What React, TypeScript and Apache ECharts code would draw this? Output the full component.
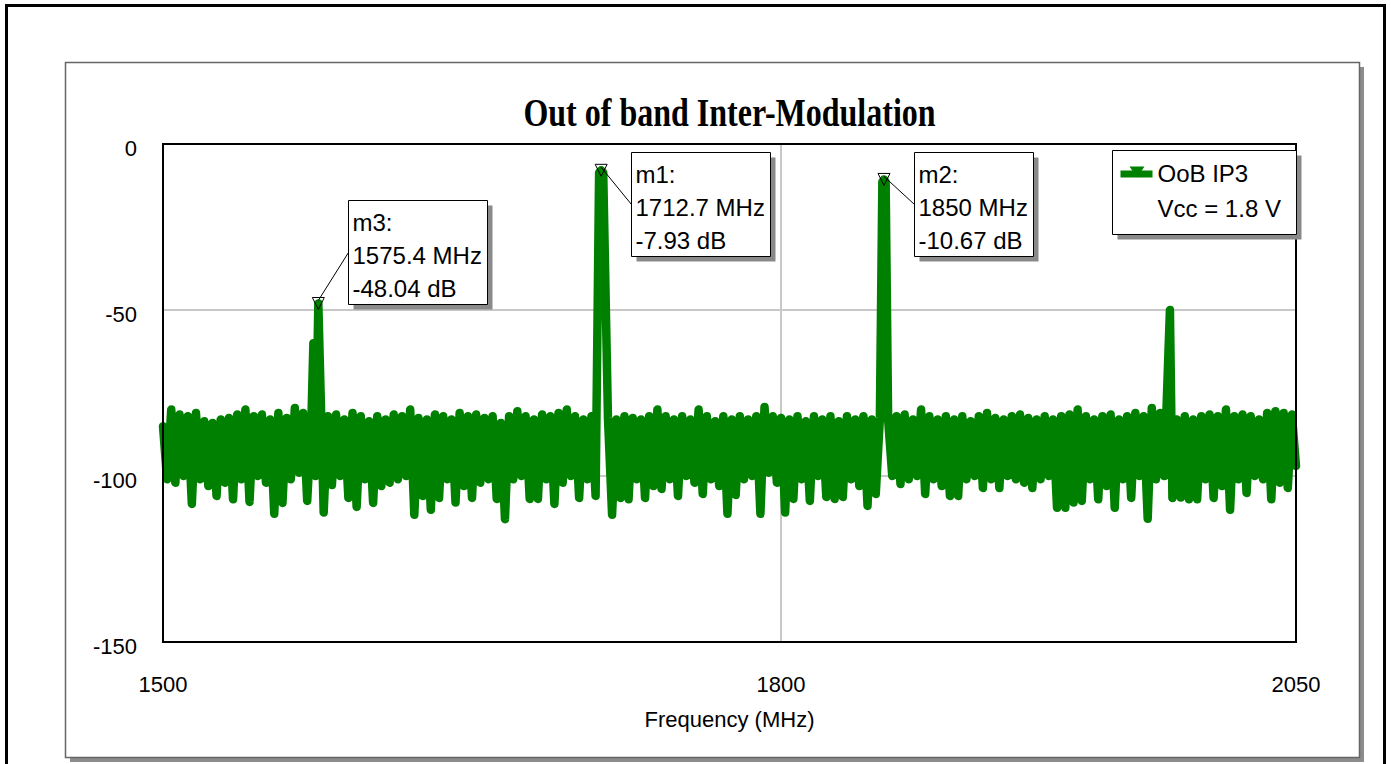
import React, { useEffect, useRef } from "react";
import * as echarts from "echarts";

// Spectrum sweep: noise floor sampled every 2 MHz from 1500 MHz (alternating crest / trough readings)
const FREQ_START = 1500;
const FREQ_STEP = 2;
const NOISE_DB = [
  -85, -101, -80, -102, -81.5, -100, -82, -108.4, -81, -101, -83.5, -103, -84, -106, -83, -102, -82.5, -107, -81.5, -101,
  -80, -107.8, -82, -100, -81.5, -102, -83, -111.4, -81, -108.1, -82.5, -101, -79.5, -99, -81, -107.5, -84, -100, -83, -111,
  -82, -102.7, -81.5, -100, -83, -106.6, -81, -109.3, -82, -101, -83.5, -108.1, -82, -103, -83, -102, -81.5, -101, -82, -100,
  -80, -111.7, -82.5, -106, -83, -110.2, -81.5, -106.6, -82, -101, -83, -108, -81, -103, -82, -106.6, -81.5, -102, -82.5, -101,
  -82, -106.9, -84, -113, -82, -101, -80.5, -100, -82, -106.9, -83, -106.9, -81.5, -101, -82, -108.4, -81, -102, -80, -100,
  -82, -106.6, -83, -101, -82, -106, -83, -100, -82.5, -111.7, -83, -106.6, -82, -107, -82.5, -101, -83, -106.6, -82, -103,
  -80, -103.9, -82, -101, -83, -106, -82, -100, -83, -102, -80, -105.4, -82, -101, -83.5, -103, -82, -111.4, -83, -105.7,
  -82, -101, -83, -100, -82, -111.4, -79.2, -99, -82, -102, -82.5, -111, -83, -106.9, -82, -101, -83.5, -107.5, -82, -100,
  -83, -106.3, -82, -106.9, -83.5, -106.3, -82, -101, -83, -103, -82, -109, -83, -105.4, -82.5, -101, -83, -100, -82, -102.4,
  -81.5, -101, -83, -100, -80, -105.4, -82, -101, -83, -103, -82, -106, -83, -106, -82, -101, -83.5, -100, -82, -103.6,
  -81, -101, -82.5, -103.6, -83, -100, -82, -101, -81.5, -102, -82.5, -103.6, -83, -101, -82, -100, -83, -109.6, -82, -109.6,
  -81.5, -108, -80, -107.5, -82, -101, -83, -107, -82, -103, -81.5, -109.6, -83, -101, -82, -106.6, -81, -100, -82, -112.9,
  -79.5, -101, -81, -100, -82, -106.6, -83, -106.5, -82, -107, -83, -107, -82, -101, -81.5, -106.6, -82, -103, -80, -110.2,
  -82, -101, -81.5, -105.1, -82, -100, -83, -101, -81, -107, -80.5, -102, -81, -103.6, -81.5, -97,
];

// Discrete tones (inter-modulation products and carriers)
const TONE_MHZ = [1573.0, 1575.4, 1711.7, 1712.7, 1713.7, 1849.2, 1850, 1850.8, 1988.8];
const TONE_DB = [-60, -48.04, -8.6, -7.93, -8.6, -11.4, -10.67, -11.4, -50];

// Marker read-outs
const MARKER_NAMES = ["m3", "m1", "m2"];
const MARKER_MHZ = [1575.4, 1712.7, 1850];
const MARKER_DB = [-48.04, -7.93, -10.67];

const X_MIN = 1500;
const X_MAX = 2050;
const X_INTERVAL = 300;
const Y_MIN = -150;
const Y_MAX = 0;
const Y_INTERVAL = 50;

const TITLE = "Out of band Inter-Modulation";
const SERIES_NAME = "OoB IP3";
const SERIES_NOTE = "Vcc = 1.8 V";
const X_NAME = "Frequency (MHz)";

const GREEN = "#008000";
const SANS = '"Liberation Sans", Arial, sans-serif';
const SERIF = '"Liberation Serif", "Times New Roman", serif';

function measure(text: string, font: string): number {
  const ctx = document.createElement("canvas").getContext("2d");
  if (!ctx) return text.length * 12;
  ctx.font = font;
  return ctx.measureText(text).width;
}

export default function App() {
  const ref = useRef<HTMLDivElement>(null);

  useEffect(() => {
    const el = ref.current;
    if (!el) return;
    const chart = echarts.init(el, null, { renderer: "svg" });

    const tones = TONE_MHZ.map((f, i) => [f, TONE_DB[i]]);
    const noise = NOISE_DB.map((v, i) => [FREQ_START + i * FREQ_STEP, v]).filter(([f]) =>
      TONE_MHZ.every((t) => Math.abs(t - f) > 0.9)
    );
    const data = noise.concat(tones).sort((a, b) => a[0] - b[0]);

    const axisText = { fontSize: 22, color: "#000", fontFamily: SANS };
    const gridLine = { show: true, lineStyle: { color: "#c8c8c8", width: 2 } };

    chart.setOption({
      animation: false,
      grid: { left: 163, top: 144, right: 95, bottom: 122, show: false },
      xAxis: {
        type: "value",
        min: X_MIN,
        max: X_MAX,
        interval: X_INTERVAL,
        axisLine: { show: false },
        axisTick: { show: false },
        axisLabel: {
          ...axisText,
          margin: 31,
          showMinLabel: true,
          showMaxLabel: true,
          formatter: (v: number) => String(v),
        },
        splitLine: gridLine,
        name: X_NAME,
        nameLocation: "middle",
        nameGap: 66,
        nameTextStyle: axisText,
      },
      yAxis: {
        type: "value",
        min: Y_MIN,
        max: Y_MAX,
        interval: Y_INTERVAL,
        axisLine: { show: false },
        axisTick: { show: false },
        axisLabel: {
          ...axisText,
          margin: 26,
          verticalAlign: "top",
          lineHeight: 9,
          formatter: (v: number) => String(v),
        },
        splitLine: gridLine,
      },
      series: [
        {
          type: "line",
          name: SERIES_NAME,
          data,
          symbol: "none",
          showSymbol: false,
          lineStyle: { color: GREEN, width: 8.5, cap: "round", join: "round" },
          markPoint: {
            symbol: "triangle",
            symbolRotate: 180,
            symbolSize: 12,
            itemStyle: { color: "rgba(0,0,0,0)", borderColor: "#000", borderWidth: 1 },
            label: { show: false },
            data: MARKER_MHZ.map((f, i) => ({ name: MARKER_NAMES[i], coord: [f, MARKER_DB[i]] })),
          },
        },
      ],
    });

    const [gx0, gy0] = chart.convertToPixel({ gridIndex: 0 }, [X_MIN, Y_MAX]) as number[];
    const [gx1, gy1] = chart.convertToPixel({ gridIndex: 0 }, [X_MAX, Y_MIN]) as number[];

    const elements: any[] = [];

    // outer frame and inner panel with drop shadow
    elements.push({
      type: "rect",
      shape: { x: 6.5, y: 5.5, width: 1378, height: 800 },
      style: { fill: "none", stroke: "#000", lineWidth: 3 },
      z: 1,
    });
    elements.push({
      type: "rect",
      shape: { x: 1360, y: 67, width: 4, height: 695 },
      style: { fill: "#8c8c8c" },
      z: 1,
    });
    elements.push({
      type: "rect",
      shape: { x: 70, y: 758, width: 1294, height: 4 },
      style: { fill: "#8c8c8c" },
      z: 1,
    });
    elements.push({
      type: "rect",
      shape: { x: 65.5, y: 62.5, width: 1294, height: 695 },
      style: { fill: "none", stroke: "#666", lineWidth: 1.5 },
      z: 1,
    });

    // plot frame
    elements.push({
      type: "rect",
      shape: { x: gx0, y: gy0, width: gx1 - gx0, height: gy1 - gy0 },
      style: { fill: "none", stroke: "#000", lineWidth: 2 },
      z: 10,
    });

    // title
    elements.push({
      type: "text",
      x: (gx0 + gx1) / 2,
      y: 113,
      scaleX: 0.8,
      style: {
        text: TITLE,
        font: `bold 40px ${SERIF}`,
        fill: "#000",
        align: "center",
        verticalAlign: "middle",
      },
      z: 10,
    });

    // marker read-out boxes
    const boxFont = `24px ${SANS}`;
    MARKER_NAMES.forEach((name, i) => {
      const [px, py] = chart.convertToPixel({ gridIndex: 0 }, [MARKER_MHZ[i], MARKER_DB[i]]) as number[];
      const lines = [`${name}:`, `${MARKER_MHZ[i]} MHz`, `${MARKER_DB[i].toFixed(2)} dB`];
      const w = Math.ceil(Math.max(...lines.map((l) => measure(l, boxFont)))) + 9;
      const h = 104;
      const left = Math.round(px + 30) + 0.5;
      const cy = Math.max(py - 51, gy0 + 8 + h / 2);
      const top = Math.round(cy - h / 2) + 0.5;
      elements.push({
        type: "rect",
        shape: { x: left + 5, y: top + 5, width: w, height: h },
        style: { fill: "#8a8a8a" },
        z: 20,
      });
      elements.push({
        type: "rect",
        shape: { x: left, y: top, width: w, height: h },
        style: { fill: "#fff", stroke: "#000", lineWidth: 1 },
        z: 21,
      });
      elements.push({
        type: "text",
        x: left + 4,
        y: top + 5,
        style: { text: lines.join("\n"), font: boxFont, lineHeight: 33, fill: "#000", verticalAlign: "top" },
        z: 22,
      });
      elements.push({
        type: "line",
        shape: { x1: px, y1: py - 3, x2: left, y2: top + h / 2 },
        style: { stroke: "#000", lineWidth: 1 },
        z: 22,
      });
    });

    // legend box
    const lgW = 184;
    const lgH = 84;
    const lgX = gx1 - lgW + 0.5;
    const lgY = gy0 + 6.5;
    elements.push({
      type: "rect",
      shape: { x: lgX + 5, y: lgY + 5, width: lgW, height: lgH },
      style: { fill: "#8a8a8a" },
      z: 20,
    });
    elements.push({
      type: "rect",
      shape: { x: lgX, y: lgY, width: lgW, height: lgH },
      style: { fill: "#fff", stroke: "#000", lineWidth: 1 },
      z: 21,
    });
    elements.push({
      type: "rect",
      shape: { x: lgX + 8, y: lgY + 20, width: 32, height: 7 },
      style: { fill: GREEN },
      z: 22,
    });
    elements.push({
      type: "polygon",
      shape: {
        points: [
          [lgX + 17, lgY + 16],
          [lgX + 32, lgY + 16],
          [lgX + 24.5, lgY + 27],
        ],
      },
      style: { fill: GREEN },
      z: 22,
    });
    elements.push({
      type: "text",
      x: lgX + 45,
      y: lgY + 23,
      style: { text: SERIES_NAME, font: boxFont, fill: "#000", verticalAlign: "middle" },
      z: 22,
    });
    elements.push({
      type: "text",
      x: lgX + 45,
      y: lgY + 58,
      style: { text: SERIES_NOTE, font: boxFont, fill: "#000", verticalAlign: "middle" },
      z: 22,
    });

    chart.setOption({ graphic: elements });

    return () => chart.dispose();
  }, []);

  return (
    <div
      ref={ref}
      style={{ position: "absolute", left: 0, top: 0, width: 1391, height: 764, background: "#fff" }}
    />
  );
}
